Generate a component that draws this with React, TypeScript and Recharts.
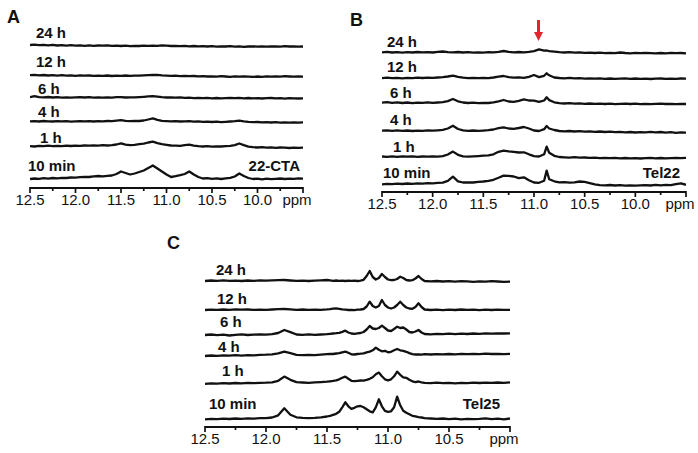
import React from 'react';
import { LineChart, Line, XAxis, YAxis } from 'recharts';

// ---------- Panel A (22-CTA) ----------
const ppmA = [12.5, 12.45, 12.4, 12.35, 12.3, 12.25, 12.2, 12.15, 12.1, 12.05,
  12.0, 11.95, 11.9, 11.85, 11.8, 11.75, 11.7, 11.65, 11.6, 11.55,
  11.5, 11.45, 11.4, 11.35, 11.3, 11.25, 11.2, 11.15, 11.1, 11.05,
  11.0, 10.95, 10.9, 10.85, 10.8, 10.75, 10.7, 10.65, 10.6, 10.55,
  10.5, 10.45, 10.4, 10.35, 10.3, 10.25, 10.2, 10.15, 10.1, 10.05,
  10.0, 9.95, 9.9, 9.85, 9.8, 9.75, 9.7, 9.65, 9.6, 9.55, 9.5];
const a10min = [0, 0.5, 0.2, 0.8, 0.4, 1.0, 0.7, 1.2, 1.0, 1.5,
  1.3, 1.8, 2.2, 2.0, 2.6, 3.0, 2.7, 3.2, 3.5, 5.0,
  7.5, 6.0, 4.5, 5.5, 7.0, 8.5, 11.0, 13.5, 10.5, 7.5,
  4.5, 2.0, 2.8, 3.8, 5.0, 7.5, 4.5, 2.0, 0.5, 0.8,
  0.2, 0.6, 0.0, 0.7, 1.2, 2.5, 5.5, 3.0, 1.0, 0.0,
  0.4, -0.3, 0.3, -0.2, 0.2, 0.5, 0.0, 0.4, 0.1, 0.6, 0.3];
const a1h = [0.5, 0.2, 0.8, 0.5, 1.0, 0.6, 0.9, 0.5, 1.0, 0.7,
  1.1, 0.8, 1.2, 1.0, 1.3, 1.1, 1.5, 1.2, 1.6, 2.2,
  3.3, 2.0, 1.5, 1.8, 2.5, 3.0, 4.2, 5.0, 3.5, 2.5,
  1.8, 1.2, 1.0, 0.8, 1.5, 2.0, 1.0, 0.5, 0.2, 0.5,
  0.0, 0.4, 0.2, 0.5, 0.8, 1.5, 3.2, 1.5, 0.0, -0.5,
  -0.8, -0.5, -1.0, -0.7, -1.2, -0.8, -1.0, -1.3, -0.9, -1.2, -1.0];
const a4h = [0.3, 0.6, 0.2, 0.7, 0.4, 0.2, 0.6, 0.3, 0.5, 0.1,
  0.4, 0.6, 0.3, 0.5, 0.2, 0.6, 0.4, 0.7, 0.5, 1.0,
  1.6, 0.8, 0.6, 0.9, 0.7, 1.2, 2.2, 3.3, 1.8, 0.8,
  0.5, 0.3, 0.6, 0.2, 0.4, 0.5, 0.1, 0.3, -0.2, 0.1,
  -0.3, 0.0, -0.4, -0.1, 0.2, 0.5, 1.0, 0.3, -0.2, -0.5,
  -0.3, -0.7, -0.4, -0.8, -0.5, -0.9, -0.6, -1.0, -0.7, -0.9, -0.6];
const a6h = [0.5, 1.5, 0.6, 0.3, 0.7, 0.2, 0.5, 0.1, 0.4, 0.0,
  0.3, 0.6, 0.2, 0.5, 0.1, 0.4, 0.0, 0.3, 0.1, 0.5,
  0.6, 0.2, 0.4, 0.3, 0.6, 0.9, 1.3, 1.6, 1.0, 0.5,
  0.2, 0.4, 0.0, 0.3, -0.2, 0.1, -0.4, -0.1, -0.5, -0.2,
  -0.6, -0.3, -0.7, -0.4, -0.2, -0.5, -0.1, -0.6, -0.3, -0.7,
  -0.4, -0.8, -0.5, -0.3, -0.7, -0.4, -0.9, -0.5, -0.6, -0.8, -0.6];
const a12h = [0.8, 1.2, 0.6, 1.0, 0.5, 0.9, 0.4, 0.8, 0.3, 0.7,
  0.2, 0.6, 0.3, 0.5, 0.1, 0.4, 0.2, 0.5, 0.0, 0.3,
  0.2, 0.5, 0.1, 0.4, 0.3, 0.6, 0.8, 1.0, 1.2, 0.7,
  0.4, 0.1, 0.3, -0.1, 0.2, -0.2, 0.0, -0.4, -0.1, -0.5,
  -0.3, -0.6, -0.2, -0.5, -0.8, -0.4, -0.7, -0.3, -0.6, -0.9,
  -0.5, -0.8, -0.4, -0.7, -0.3, -0.6, -0.2, -0.5, -0.7, -0.4, -0.6];
const a24h = [1.0, 1.4, 0.8, 1.2, 0.6, 1.1, 0.5, 0.9, 0.4, 0.8,
  0.3, 0.7, 0.2, 0.6, 0.1, 0.5, 0.3, 0.6, 0.2, 0.4,
  0.0, 0.3, -0.1, 0.2, 0.0, 0.3, 0.1, 0.4, 0.2, 0.6,
  0.3, 0.0, 0.2, -0.2, 0.1, -0.3, 0.0, -0.4, -0.1, -0.5,
  -0.2, -0.6, -0.3, -0.5, -0.2, -0.7, -0.4, -0.8, -0.5, -0.3,
  -0.6, -0.4, -0.7, -0.5, -0.3, -0.6, -0.2, -0.5, -0.4, -0.7, -0.5];

// ---------- Panel B (Tel22) ----------
const ppmB = [12.5, 12.45, 12.4, 12.35, 12.3, 12.25, 12.2, 12.15, 12.1, 12.05,
  12.0, 11.95, 11.9, 11.85, 11.8, 11.75, 11.7, 11.65, 11.6, 11.55,
  11.5, 11.45, 11.4, 11.35, 11.3, 11.25, 11.2, 11.15, 11.1, 11.05,
  11.0, 10.95, 10.9, 10.875, 10.85, 10.8, 10.75, 10.7, 10.65, 10.6,
  10.55, 10.5, 10.45, 10.4, 10.35, 10.3, 10.25, 10.2, 10.15, 10.1,
  10.05, 10.0, 9.95, 9.9, 9.85, 9.8, 9.75, 9.7, 9.65, 9.6, 9.55, 9.5];
const b10min = [0.0, 0.4, 0.1, 0.6, 0.3, 0.8, 0.5, 1.0, 0.7, 1.2,
  1.0, 1.4, 1.6, 3.5, 7.7, 3.0, 1.8, 2.0, 1.8, 2.4,
  2.8, 3.5, 4.5, 6.5, 8.7, 8.4, 7.8, 6.2, 7.0, 4.0,
  1.8, 1.5, 3.5, 13.7, 5.0, 3.0, 2.0, 2.2, 1.6, 2.0,
  2.8, 2.5, 1.2, 0.0, -0.8, -1.0, -0.7, -1.2, -0.9, -1.3,
  -1.0, -1.4, -1.1, -0.8, -1.2, -0.6, -1.0, -0.5, -0.9, 0.2, 1.0, -0.5];
const b1h = [0.8, 0.4, 0.9, 0.5, 1.0, 0.6, 0.9, 0.5, 0.8, 0.6,
  1.0, 0.7, 1.2, 2.8, 5.7, 2.5, 1.0, 0.6, 0.9, 1.2,
  1.6, 2.0, 3.0, 5.5, 6.7, 6.0, 5.5, 4.8, 5.0, 3.0,
  1.2, 0.8, 3.0, 10.7, 4.5, 1.5, 0.3, 0.0, -0.3, 0.1,
  -0.4, -0.2, -0.6, -0.3, -0.8, -0.5, -0.9, -0.6, -1.0, -0.7,
  -1.1, -0.8, -1.2, -0.9, -0.6, -1.0, -0.7, -1.1, -0.8, -0.5, -0.9, -0.6];
const b4h = [0.3, 0.7, 0.2, 0.6, 0.1, 0.5, 0.0, 0.4, 0.2, 0.6,
  0.3, 0.7, 1.2, 2.5, 5.3, 2.0, 0.6, 0.2, 0.5, 0.1,
  0.4, 0.8, 1.5, 2.8, 3.7, 2.5, 2.2, 3.0, 4.0, 2.5,
  0.5, 0.0, 1.8, 5.0, 2.5, 1.0, 0.0, -0.4, 0.0, -0.5,
  -0.2, -0.7, -0.3, -0.8, -0.5, -1.0, -0.6, -1.2, -0.8, -1.3,
  -1.0, -1.5, -1.1, -1.4, -0.9, -1.3, -1.0, -1.6, -1.2, -1.8, -1.4, -1.6];
const b6h = [0.7, 1.2, 0.5, 1.0, 0.3, 0.8, 0.2, 0.7, 0.4, 0.9,
  0.5, 0.8, 1.2, 2.2, 4.3, 2.0, 0.8, 0.3, 0.7, 0.2,
  0.5, 0.3, 0.9, 2.0, 3.3, 1.8, 1.5, 2.5, 4.0, 2.8,
  2.7, 1.5, 2.8, 6.0, 3.2, 1.0, 0.2, -0.2, 0.1, -0.4,
  -0.1, -0.5, -0.2, -0.6, -0.3, -0.7, -0.4, -0.8, -0.5, -0.3,
  -0.7, -0.4, -0.8, -0.5, -0.9, -0.6, -0.3, -0.7, -0.5, -0.8, -0.6, -0.7];
const b12h = [0.2, 0.6, 0.1, 0.5, 0.0, 0.4, 0.2, 0.6, 0.3, 0.7,
  0.4, 0.8, 1.2, 1.8, 2.7, 1.5, 0.6, 0.2, 0.5, 0.1,
  0.4, 0.2, 0.8, 1.6, 2.3, 1.2, 0.6, 0.9, 0.5, 1.5,
  3.3, 1.2, 2.5, 5.0, 3.0, 0.8, 0.3, 0.0, 0.4, -0.1,
  0.2, -0.3, 0.0, -0.4, -0.1, -0.5, -0.2, -0.6, -0.3, -0.1,
  -0.5, -0.2, -0.6, -0.3, -0.7, -0.4, -0.2, -0.6, -0.3, -0.5, -0.2, -0.4];
const b24h = [0.4, 0.8, 0.2, 0.6, 0.0, 0.5, 0.2, 0.7, 0.3, 0.6,
  0.2, 0.8, 1.2, 0.6, 0.3, 0.7, 0.2, 0.5, 0.0, 0.4,
  0.1, 0.5, 0.3, 0.9, 1.7, 0.8, 0.4, 0.7, 0.3, 0.8,
  1.5, 3.3, 2.0, 2.2, 1.6, 1.0, 0.5, 0.2, 0.6, 0.0,
  0.3, -0.2, 0.1, -0.3, 0.0, -0.5, -0.1, -0.4, 0.2, -0.3,
  -0.6, -0.2, -0.5, -0.1, -0.4, -0.7, -0.3, -0.6, -0.2, -0.5, -0.3, -0.6];

// ---------- Panel C (Tel25) ----------
const ppmC = [12.5, 12.45, 12.4, 12.35, 12.3, 12.25, 12.2, 12.15, 12.1, 12.05,
  12.0, 11.95, 11.9, 11.85, 11.8, 11.75, 11.7, 11.65, 11.6, 11.55, 11.5,
  11.475, 11.45, 11.425, 11.4, 11.375, 11.35, 11.325, 11.3, 11.275, 11.25,
  11.225, 11.2, 11.175, 11.15, 11.125, 11.1, 11.075, 11.05, 11.025, 11.0,
  10.975, 10.95, 10.925, 10.9, 10.875, 10.85, 10.825, 10.8, 10.775, 10.75, 10.725, 10.7,
  10.65, 10.6, 10.55, 10.5, 10.45, 10.4, 10.35, 10.3, 10.25, 10.2, 10.15, 10.1, 10.05, 10.0];
const c10min = [0.0, 0.5, 0.2, 0.7, 0.3, 0.8, 0.5, 1.0, 0.6, 1.1,
  1.2, 1.8, 4.0, 11.0, 4.5, 2.0, 1.5, 1.2, 1.4, 2.0, 2.8,
  3.5, 4.5, 5.5, 7.5, 12.0, 17.0, 13.0, 10.5, 11.5, 13.0,
  13.3, 12.0, 10.0, 8.0, 7.0, 12.0, 20.0, 13.0, 8.5, 7.5,
  8.0, 12.0, 22.7, 14.0, 8.5, 6.5, 5.0, 3.5, 3.0, 2.2, 1.8, 1.2,
  0.8, 0.4, 0.8, 0.2, 0.6, 0.0, 0.5, 0.1, 0.4, 0.9, 0.2, 0.6, 0.0, 0.8];
const c1h = [-0.5, 0.0, -0.3, 0.2, -0.2, 0.3, 0.0, 0.4, 0.1, 0.5,
  0.6, 1.0, 2.5, 6.7, 3.5, 1.2, 0.8, 0.5, 0.9, 1.2, 1.6,
  2.0, 2.4, 3.0, 4.0, 5.5, 6.7, 4.5, 2.5, 2.2, 2.5,
  2.8, 2.6, 3.5, 4.5, 6.0, 9.0, 10.7, 7.0, 4.0, 3.0,
  4.0, 7.0, 11.7, 8.5, 6.0, 5.5, 3.5, 2.0, 1.2, 1.8, 1.0, 0.5,
  0.2, 0.6, 0.1, 0.5, 0.0, 0.4, 0.2, 0.6, 0.3, 0.7, 0.4, 0.8, 0.5, 0.9];
const c4h = [-1.7, -1.2, -1.6, -1.0, -1.4, -0.9, -1.3, -0.8, -1.1, -0.6,
  -0.4, 0.0, 1.0, 2.7, 1.2, -0.5, -0.9, -0.5, -0.8, -0.3, 0.2,
  0.5, 0.3, 0.8, 1.2, 2.0, 2.7, 1.5, 0.0, -0.2, 0.3,
  0.6, 1.0, 2.0, 2.7, 4.0, 6.7, 4.5, 3.0, 3.5, 2.0,
  2.5, 4.0, 5.3, 4.0, 3.5, 2.5, 1.2, 0.2, -0.2, 0.0, -0.3, 0.1,
  -0.2, 0.2, -0.1, 0.3, 0.0, 0.4, 0.1, 0.5, 0.2, 0.6, 0.3, 0.5, 0.2, 0.4];
const c6h = [-1.0, -0.5, -1.2, -0.7, -1.5, -0.8, -0.4, -1.0, -0.6, -0.3,
  -0.6, -0.2, 1.0, 4.0, 1.8, -0.5, -0.8, -0.4, -0.9, -0.5, -0.2,
  0.2, 0.5, 0.8, 1.2, 2.2, 3.3, 1.5, 0.5, 0.2, 0.6, 1.0, 2.0,
  4.5, 8.0, 5.5, 5.0, 6.0, 8.3, 6.0, 3.5, 3.0, 5.0,
  7.3, 6.0, 6.5, 4.5, 2.0, 1.5, 2.5, 4.0, 1.5, 0.0,
  -0.3, 0.2, -0.2, 0.3, -0.1, 0.4, 0.0, 0.5, 0.2, 0.6, 0.3, 0.7, 0.5, 0.7];
const c12h = [0.0, 0.4, 0.1, 0.5, 0.2, 0.6, 0.3, 0.5, 0.1, 0.4,
  0.2, 0.5, 0.8, 1.0, 0.6, 0.2, 0.5, 0.1, 0.4, 0.2, 0.6,
  0.9, 1.4, 1.7, 1.2, 0.6, 0.3, 0.0, 0.2, -0.1, 0.3, 0.5, 1.0,
  3.5, 8.3, 4.0, 2.5, 4.0, 10.0, 5.0, 2.5, 1.5, 2.5,
  5.0, 8.3, 5.0, 2.5, 1.5, 1.2, 3.0, 6.7, 3.0, 0.5,
  0.0, 0.4, -0.1, 0.3, 0.0, 0.5, 0.1, 0.4, -0.1, 0.3, 0.0, 0.4, 0.1, 0.2];
const c24h = [0.0, 0.5, 0.2, 0.6, 0.1, 0.4, 0.0, 0.5, 0.2, 0.6,
  0.3, 0.7, 0.9, 1.0, 0.5, 0.1, 0.4, 0.0, 0.3, 0.6, 1.0,
  0.6, 0.2, 0.5, 0.1, 0.3, 0.0, 0.4, 0.1, 0.3, 0.0, 0.4, 1.2,
  5.0, 10.0, 4.0, 1.5, 3.0, 7.0, 4.0, 1.5, 0.8, 1.0,
  2.0, 4.3, 3.0, 1.0, 0.5, 0.8, 2.5, 5.0, 2.0, 0.0,
  -0.4, 0.0, -0.5, -0.1, -0.6, -0.2, -0.4, -0.8, -0.3, -0.6, -0.2, -0.5, -0.9, -0.7];

// trace names (labels) and axis ticks
const traceLabels = ['10 min', '1 h', '4 h', '6 h', '12 h', '24 h'];
const ticksAB = [12.5, 12.25, 12.0, 11.75, 11.5, 11.25, 11.0, 10.75, 10.5, 10.25, 10.0, 9.75, 9.5];
const majorsAB = [12.5, 12.0, 11.5, 11.0, 10.5, 10.0, 9.5];
const ticksC = [12.5, 12.25, 12.0, 11.75, 11.5, 11.25, 11.0, 10.75, 10.5, 10.25, 10.0];
const majorsC = [12.5, 12.0, 11.5, 11.0, 10.5, 10.0];

// ---------- layout (stack offsets in px above axis) ----------
const offsetsA = [9, 41.3, 66.3, 90.3, 112, 142];
const offsetsB = [7.7, 34.7, 61, 88.7, 113.7, 139.3];
const offsetsC = [7.7, 43.7, 72.7, 93, 117, 146];

const FONT = '"Liberation Sans", Arial, Helvetica, sans-serif';
const INK = '#111111';

function buildRows(ppm: number[], series: number[][], offsets: number[]) {
  return ppm.map((p, i) => {
    const row: Record<string, number> = { ppm: p };
    series.forEach((s, k) => { row['t' + k] = offsets[k] + s[i]; });
    return row;
  });
}

const makeTick = (majors: number[], last: number) => (props: any) => {
  const { x, y, payload } = props;
  const v = payload.value as number;
  const isMajor = majors.some((m) => Math.abs(m - v) < 1e-6);
  const isLast = Math.abs(v - last) < 1e-6;
  return (
    <g>
      <line x1={x} x2={x} y1={y - 1} y2={y + (isMajor ? 5 : 3)} stroke={INK} strokeWidth={1.7} />
      {isMajor && (
        <text x={isLast ? x - 6 : x} y={y + 16.5} textAnchor="middle" fontFamily={FONT} fontSize={15} fill={INK}>
          {isLast ? 'ppm' : v.toFixed(1)}
        </text>
      )}
    </g>
  );
};

type PanelProps = {
  left: number; top: number; width: number; height: number;
  margin: { top: number; right: number; bottom: number; left: number };
  axisH: number; domain: [number, number];
  ticks: number[]; majors: number[];
  ppm: number[]; series: number[][]; offsets: number[];
};

function Panel(p: PanelProps) {
  const rows = buildRows(p.ppm, p.series, p.offsets);
  const plotH = p.height - p.margin.top - p.margin.bottom - p.axisH;
  return (
    <div style={{ position: 'absolute', left: p.left, top: p.top, width: p.width, height: p.height }}>
      <LineChart width={p.width} height={p.height} data={rows} margin={p.margin}>
        <XAxis
          dataKey="ppm"
          type="number"
          domain={p.domain}
          reversed
          allowDataOverflow
          ticks={p.ticks}
          interval={0}
          height={p.axisH}
          tickSize={0}
          tickMargin={0}
          tickLine={false}
          axisLine={{ stroke: INK, strokeWidth: 1.9 }}
          tick={makeTick(p.majors, p.domain[0])}
        />
        <YAxis hide type="number" domain={[0, plotH]} allowDataOverflow />
        {p.series.map((_, k) => (
          <Line
            key={k}
            type="linear"
            dataKey={'t' + k}
            stroke={INK}
            strokeWidth={2.3}
            strokeLinejoin="round"
            dot={false}
            activeDot={false}
            isAnimationActive={false}
          />
        ))}
      </LineChart>
    </div>
  );
}

const txt = (x: number, y: number, s: string, size = 15, weight: any = 'bold', anchor: any = 'start') => (
  <text key={s + x + y} x={x} y={y} fontFamily={FONT} fontSize={size} fontWeight={weight} fill={INK} textAnchor={anchor}>
    {s}
  </text>
);

export default function App() {
  // label positions [x, baseline] per trace in order of traceLabels
  const labA: [number, number][] = [[28, 171], [40, 143], [38, 117], [38, 94], [36, 67], [36, 38]];
  const labB: [number, number][] = [[383, 178], [393, 151.5], [390, 124.5], [390, 97.5], [387, 72], [387, 46.5]];
  const labC: [number, number][] = [[209, 409], [222, 376], [218, 352], [220, 327], [217, 304], [216, 275]];
  return (
    <div style={{ position: 'absolute', left: 0, top: 0, width: 698, height: 453, background: '#fff', overflow: 'hidden' }}>
      <Panel left={0} top={0} width={320} height={215} margin={{ top: 10, right: 17, bottom: 0, left: 30 }}
        axisH={27} domain={[9.5, 12.5]} ticks={ticksAB} majors={majorsAB}
        ppm={ppmA} series={[a10min, a1h, a4h, a6h, a12h, a24h]} offsets={offsetsA} />
      <Panel left={360} top={0} width={338} height={220} margin={{ top: 10, right: 12, bottom: 0, left: 22 }}
        axisH={28} domain={[9.5, 12.5]} ticks={ticksAB} majors={majorsAB}
        ppm={ppmB} series={[b10min, b1h, b4h, b6h, b12h, b24h]} offsets={offsetsB} />
      <Panel left={180} top={220} width={340} height={233} margin={{ top: 10, right: 10, bottom: 0, left: 25 }}
        axisH={26} domain={[10.0, 12.5]} ticks={ticksC} majors={majorsC}
        ppm={ppmC} series={[c10min, c1h, c4h, c6h, c12h, c24h]} offsets={offsetsC} />
      <svg width={698} height={453} style={{ position: 'absolute', left: 0, top: 0, pointerEvents: 'none' }}>
        {txt(7, 23, 'A', 18)}
        {txt(350, 26, 'B', 18)}
        {txt(167, 249, 'C', 18)}
        {traceLabels.map((s, k) => txt(labA[k][0], labA[k][1], s))}
        {traceLabels.map((s, k) => txt(labB[k][0], labB[k][1], s))}
        {traceLabels.map((s, k) => txt(labC[k][0], labC[k][1], s))}
        {txt(300, 171, '22-CTA', 15, 'bold', 'end')}
        {txt(680, 178, 'Tel22', 15, 'bold', 'end')}
        {txt(500, 409, 'Tel25', 15, 'bold', 'end')}
        <line x1={538.5} x2={538.5} y1={20} y2={33} stroke="#e3242b" strokeWidth={3} />
        <polygon points="534,32 543,32 538.5,41" fill="#e3242b" />
      </svg>
    </div>
  );
}
